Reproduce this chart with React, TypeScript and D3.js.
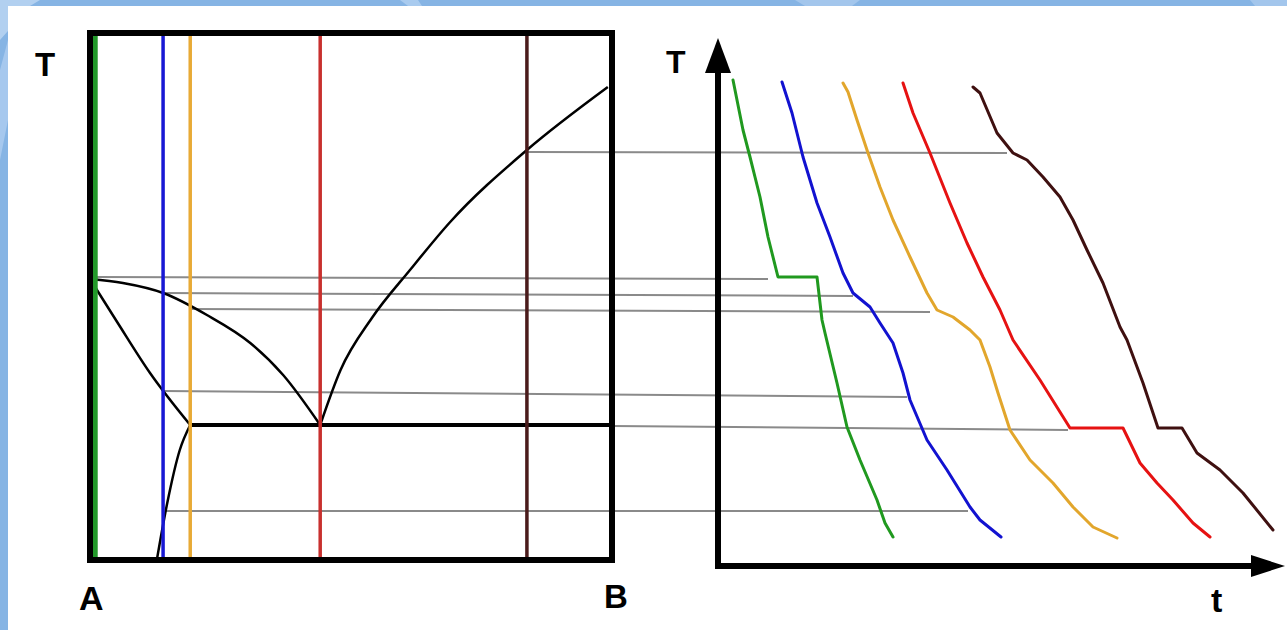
import React from 'react';
import * as d3 from 'd3';

// phase diagram A-B (left) and cooling curves (right)
const W = 1287;
const H = 630;

// alloy compositions (% B) and colours
const alloyComp = [1, 14, 19.2, 44.1, 83.7];
const alloyColor = ['#23992a', '#1818d4', '#e8aa36', '#c8302e', '#4a1b1b'];
const curveColor = ['#20991f', '#1212d0', '#e2a62c', '#e61212', '#3f1010'];

// phase boundaries as [comp %B, T]
const liquidusA: [number, number][] = [[0, 281], [6.3, 277], [14, 267], [22.4, 245], [30.7, 217], [37, 185], [44.1, 135]];
const solidusA: [number, number][] = [[0, 281], [5.2, 238], [11.5, 187], [19.2, 135]];
const solvusA: [number, number][] = [[12.8, 0], [14.8, 57], [17.2, 110], [19.2, 135]];
const liquidusB: [number, number][] = [[44.1, 135], [48, 190], [54, 242], [61.3, 290], [69, 338], [83.7, 410], [99.2, 473]];
const eutecticT = 135;
const eutecticStart = 19.2;

// cooling curves as [time, T]
const coolGreen: [number, number][] = [[15, 480], [25, 430], [32, 403], [37, 383], [42, 363], [50, 323], [60, 283], [99, 283], [104, 240], [107, 227], [119, 177], [129, 133], [142, 100], [159, 60], [167, 37], [175, 23]];
const coolBlue: [number, number][] = [[64, 478], [74, 447], [85, 403], [99, 357], [112, 323], [125, 287], [135, 267], [152, 253], [162, 237], [175, 217], [185, 187], [192, 160], [209, 120], [229, 90], [252, 53], [262, 40], [283, 23]];
const coolOrange: [number, number][] = [[125, 477], [130, 468], [139, 440], [150, 407], [162, 373], [175, 340], [192, 303], [209, 267], [219, 250], [235, 243], [252, 230], [262, 220], [272, 193], [280, 167], [292, 130], [312, 100], [335, 77], [355, 53], [375, 33], [399, 22]];
const coolRed: [number, number][] = [[185, 477], [195, 447], [212, 407], [232, 357], [249, 317], [265, 283], [282, 250], [295, 220], [322, 180], [352, 132], [405, 132], [422, 97], [439, 77], [455, 60], [475, 37], [492, 23]];
const coolBrown: [number, number][] = [[255, 473], [262, 467], [279, 427], [295, 407], [309, 400], [325, 383], [342, 363], [355, 340], [369, 310], [385, 277], [402, 233], [409, 220], [425, 177], [440, 132], [464, 132], [479, 107], [502, 90], [525, 67], [555, 30]];
const coolingCurves = [coolGreen, coolBlue, coolOrange, coolRed, coolBrown];

// thin gray tie lines: start comp, T there, end time, T there
const tieComp = [83.7, 1, 14, 19.2, 14, 100, 14.5];
const tieT1 = [408, 283, 267, 251, 169, 134, 49];
const tieTime = [289, 50, 135, 212, 189, 350, 250];
const tieT2 = [407, 281, 264, 248, 163, 130, 49];

const compScale = d3.scaleLinear().domain([0, 100]).range([90, 612]);
const tempScale = d3.scaleLinear().domain([0, 527]).range([560, 33]);
const timeScale = d3.scaleLinear().domain([0, 567]).range([718, 1285]);

const phaseLine = d3.line<[number, number]>()
  .x(d => compScale(d[0]))
  .y(d => tempScale(d[1]))
  .curve(d3.curveMonotoneX);

const coolLine = d3.line<[number, number]>()
  .x(d => timeScale(d[0]))
  .y(d => tempScale(d[1]))
  .curve(d3.curveLinear);

const font = "'Liberation Sans', Arial, sans-serif";

export default function App() {
  const axisT = -6;
  const x0 = timeScale(0);
  const yAxisY = tempScale(axisT);
  const yTop = tempScale(522);
  const xEnd = timeScale(567);

  return (
    <svg width={W} height={H} style={{ position: 'absolute', left: 0, top: 0 }}>
      {/* slide background */}
      <rect x={0} y={0} width={W} height={H} fill="#86b4e4" />
      <polygon points="0,0 40,0 30,6 0,40" fill="#b2d0f0" />
      <polygon points="0,70 8,40 8,120 0,160" fill="#a6c8ee" />
      <polygon points="400,0 418,0 422,6 408,6" fill="#a9cbef" />
      <polygon points="795,0 860,0 852,6 805,6" fill="#a3c6ec" />
      <polygon points="1250,0 1287,0 1287,6 1255,6" fill="#a3c6ec" />
      <rect x={8} y={6} width={W - 8} height={H - 6} fill="#ffffff" />

      {/* gray tie lines */}
      {tieComp.map((c, i) => (
        <line key={'tie' + i}
          x1={compScale(c)} y1={tempScale(tieT1[i])}
          x2={timeScale(tieTime[i])} y2={tempScale(tieT2[i])}
          stroke="#8a8a8a" strokeWidth={2} />
      ))}

      {/* phase boundaries */}
      {[liquidusA, solidusA, solvusA, liquidusB].map((d, i) => (
        <path key={'ph' + i} d={phaseLine(d) || ''} fill="none" stroke="#000" strokeWidth={2.5} />
      ))}
      <line x1={compScale(eutecticStart)} x2={compScale(100)}
        y1={tempScale(eutecticT)} y2={tempScale(eutecticT)} stroke="#000" strokeWidth={4} />

      {/* alloy verticals */}
      {alloyComp.map((c, i) => (
        <line key={'v' + i} x1={compScale(c)} x2={compScale(c)}
          y1={tempScale(0)} y2={tempScale(527)}
          stroke={alloyColor[i]} strokeWidth={i === 0 ? 5 : 3.5} />
      ))}

      {/* frame */}
      <rect x={compScale(0)} y={tempScale(527)} width={compScale(100) - compScale(0)}
        height={tempScale(0) - tempScale(527)} fill="none" stroke="#000" strokeWidth={6} />

      {/* cooling curve axes */}
      <line x1={x0} x2={x0} y1={yAxisY + 3} y2={yTop + 30} stroke="#000" strokeWidth={6} />
      <polygon points={`${x0},${yTop} ${x0 - 13},${yTop + 35} ${x0 + 13},${yTop + 35}`} fill="#000" />
      <line x1={x0 - 3} x2={xEnd - 30} y1={yAxisY} y2={yAxisY} stroke="#000" strokeWidth={6} />
      <polygon points={`${xEnd},${yAxisY} ${xEnd - 34},${yAxisY - 11} ${xEnd - 34},${yAxisY + 11}`} fill="#000" />

      {/* cooling curves */}
      {coolingCurves.map((d, i) => (
        <path key={'c' + i} d={coolLine(d) || ''} fill="none" stroke={curveColor[i]}
          strokeWidth={3} strokeLinejoin="round" strokeLinecap="round" />
      ))}

      {/* labels */}
      <text x={35} y={76} fontFamily={font} fontWeight="bold" fontSize={33}>T</text>
      <text x={79} y={610} fontFamily={font} fontWeight="bold" fontSize={34}>A</text>
      <text x={604} y={608} fontFamily={font} fontWeight="bold" fontSize={33}>B</text>
      <text x={666} y={73} fontFamily={font} fontWeight="bold" fontSize={32}>T</text>
      <text x={1211} y={612} fontFamily={font} fontWeight="bold" fontSize={34}>t</text>
    </svg>
  );
}
